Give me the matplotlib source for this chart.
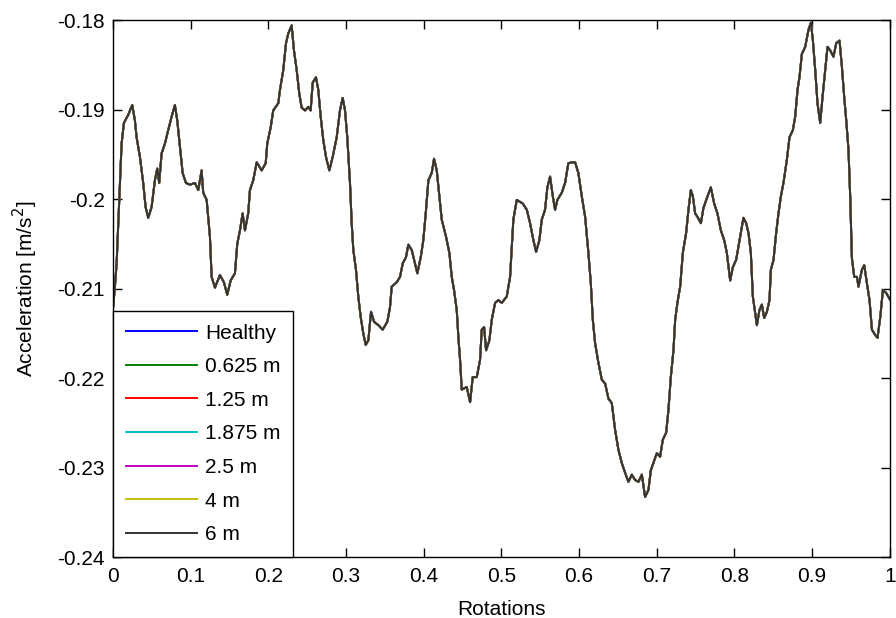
import matplotlib
matplotlib.use("Agg")
import matplotlib.pyplot as plt
from matplotlib.ticker import FixedLocator, FuncFormatter

# pixel-read trace (x in pixels of reference, y acceleration)
px = [113, 115, 116.7, 118.3, 120, 121.7, 124, 128.3, 132.3, 135, 136.7, 140, 143.3, 145.7, 148.3,
      151.7, 155, 157.3, 159.3, 161.7, 165, 168.3, 171.7, 175, 177.3, 180, 182.7, 186, 190, 195,
      198.3, 201.7, 203.3, 206.7, 208.3, 210, 211.7, 215, 220, 224, 227.3, 230.7, 235, 237.3, 240,
      242.7, 245, 248.3, 250, 253.3, 256.7, 261.7, 265.7, 267.3, 270.7, 273.3, 278.3, 280, 283.3,
      286, 288.3, 291.7, 294, 296.7, 299.3, 301.7, 305, 308.3, 310.7, 312.7, 316, 318.3, 320.7,
      323.3, 326, 329.3, 332.7, 336.7, 340, 342.7, 345, 347.3, 350, 351.7, 353.3, 356, 358.3,
      360.7, 363.3, 365.7, 368.3, 371, 374, 378.3, 382.7, 387.3, 390, 391.7, 396.7, 400, 402.7,
      406, 408.3, 411.7, 415, 417.3, 420.7, 423.3, 426, 428.3, 431.7, 434, 436.7, 439.3, 441.7,
      446, 449.3, 451.7, 454, 456.7, 458.3, 460, 461.7, 466.7, 470, 472.7, 476.7, 480, 481.7, 484,
      486, 489.3, 491.7, 495, 498.3, 501.7, 506.7, 510, 511.7, 513.3, 516.7, 522.7, 526.7, 530,
      533.3, 536, 539.3, 541.7, 545, 547.3, 550, 552.7, 555, 557.3, 561.7, 565, 568.3, 571.7, 575,
      578.3, 581.7, 585, 588.3, 590.7, 592.7, 595, 598.3, 601.7, 605, 608.3, 611.7, 615, 618.3,
      621.7, 625, 628.3, 631.7, 635, 638.3, 641.7, 645, 648.3, 650.7, 653.3, 656.7, 660, 662.7,
      666, 668.3, 670.7, 673.3, 675, 677.3, 680, 682.7, 686, 688.3, 690.7, 692.7, 695, 697.3,
      700.7, 703.3, 706.7, 710.7, 714, 717.3, 720.7, 724, 726.7, 730, 732.7, 736, 740, 743.3, 746,
      748.3, 750.7, 752.7, 755, 756.7, 759.3, 761.7, 764, 766.7, 769.3, 770.7, 773.3, 776, 778.3,
      780.7, 783.3, 786.7, 789.3, 792.7, 795, 797.3, 799.3, 801.7, 805, 808.3, 810.7, 812.7, 815,
      817.3, 820, 822.3, 825, 827.3, 830, 833.3, 836, 839.3, 841.7, 844, 846, 848.3, 850, 851.7,
      854, 856.7, 858.3, 861.7, 864, 866.7, 869.3, 871.7, 875, 877.3, 880, 882.7, 886, 889.5]

accel = [-0.2124, -0.2098, -0.2072, -0.2031, -0.1987, -0.1938, -0.1915, -0.1906, -0.1895, -0.1912,
         -0.1931, -0.1953, -0.1982, -0.2009, -0.2021, -0.2009, -0.1979, -0.1966, -0.1982, -0.1949,
         -0.1938, -0.1923, -0.1908, -0.1895, -0.1912, -0.1942, -0.1971, -0.1982, -0.1984, -0.1982,
         -0.1990, -0.1968, -0.1993, -0.2001, -0.2020, -0.2042, -0.2087, -0.2099, -0.2085, -0.2093,
         -0.2107, -0.2091, -0.2083, -0.2050, -0.2035, -0.2016, -0.2035, -0.2016, -0.1990, -0.1979,
         -0.1959, -0.1968, -0.1960, -0.1938, -0.1920, -0.1901, -0.1893, -0.1878, -0.1856, -0.1826,
         -0.1815, -0.1806, -0.1834, -0.1856, -0.1882, -0.1898, -0.1901, -0.1897, -0.1901, -0.1870,
         -0.1864, -0.1878, -0.1908, -0.1934, -0.1953, -0.1968, -0.1953, -0.1931, -0.1901, -0.1887,
         -0.1901, -0.1931, -0.1982, -0.2027, -0.2057, -0.2079, -0.2109, -0.2132, -0.2150, -0.2163,
         -0.2158, -0.2126, -0.2137, -0.2141, -0.2146, -0.2137, -0.2121, -0.2098, -0.2093, -0.2087,
         -0.2072, -0.2065, -0.2051, -0.2057, -0.2072, -0.2083, -0.2065, -0.2046, -0.2012, -0.1979,
         -0.1971, -0.1955, -0.1968, -0.1997, -0.2023, -0.2042, -0.2060, -0.2087, -0.2102, -0.2124,
         -0.2154, -0.2180, -0.2213, -0.2210, -0.2227, -0.2199, -0.2199, -0.2180, -0.2146, -0.2143,
         -0.2169, -0.2158, -0.2135, -0.2116, -0.2113, -0.2116, -0.2109, -0.2087, -0.2053, -0.2023,
         -0.2001, -0.2005, -0.2012, -0.2027, -0.2046, -0.2059, -0.2046, -0.2023, -0.2012, -0.1987,
         -0.1975, -0.1997, -0.2012, -0.2001, -0.1993, -0.1982, -0.1960, -0.1959, -0.1959, -0.1971,
         -0.1997, -0.2020, -0.2060, -0.2094, -0.2135, -0.2161, -0.2183, -0.2202, -0.2206, -0.2223,
         -0.2228, -0.2258, -0.2280, -0.2295, -0.2306, -0.2316, -0.2308, -0.2314, -0.2316, -0.2308,
         -0.2333, -0.2325, -0.2303, -0.2295, -0.2284, -0.2288, -0.2269, -0.2261, -0.2236, -0.2199,
         -0.2169, -0.2135, -0.2116, -0.2098, -0.2060, -0.2038, -0.2012, -0.1990, -0.1997, -0.2016,
         -0.2020, -0.2027, -0.2010, -0.1999, -0.1987, -0.2005, -0.2016, -0.2035, -0.2046, -0.2060,
         -0.2091, -0.2076, -0.2068, -0.2042, -0.2021, -0.2027, -0.2038, -0.2060, -0.2109, -0.2127,
         -0.2141, -0.2124, -0.2118, -0.2133, -0.2126, -0.2113, -0.2079, -0.2068, -0.2038, -0.2016,
         -0.1997, -0.1982, -0.1956, -0.1931, -0.1923, -0.1908, -0.1878, -0.1864, -0.1838, -0.1830,
         -0.1811, -0.1803, -0.1823, -0.1856, -0.1893, -0.1915, -0.1886, -0.1856, -0.1830, -0.1834,
         -0.1841, -0.1826, -0.1823, -0.1852, -0.1886, -0.1912, -0.1945, -0.1997, -0.2066, -0.2087,
         -0.2087, -0.2098, -0.2079, -0.2074, -0.2094, -0.2113, -0.2146, -0.2152, -0.2155, -0.2132,
         -0.2102, -0.2105, -0.2112]

rotations = [round((p - 113) / 776.5, 4) for p in px]

labels = ["Healthy", "0.625 m", "1.25 m", "1.875 m", "2.5 m", "4 m", "6 m"]
colors = ["#0000ff", "#008000", "#ff0000", "#00bfbf", "#bf00bf", "#bfbf00", "#333333"]
series = [accel] * len(labels)

xticks = [0, 0.1, 0.2, 0.3, 0.4, 0.5, 0.6, 0.7, 0.8, 0.9, 1]
yticks = [-0.24, -0.23, -0.22, -0.21, -0.2, -0.19, -0.18]

FS = 15

plt.rcParams['font.family'] = ['Liberation Sans', 'DejaVu Sans']
fig = plt.figure(figsize=(8.96, 6.18), dpi=100)
ax = fig.add_axes([0.126, 0.0987, 0.867, 0.8689])

for vals, lab, col in zip(series, labels, colors):
    ax.plot(rotations, vals, color=col, lw=1.4, label=lab)

ax.set_xlim(0, 1)
ax.set_ylim(-0.24, -0.18)
ax.xaxis.set_major_locator(FixedLocator(xticks))
ax.yaxis.set_major_locator(FixedLocator(yticks))
fmt = FuncFormatter(lambda v, p: "%g" % round(v, 4))
ax.xaxis.set_major_formatter(fmt)
ax.yaxis.set_major_formatter(fmt)
ax.tick_params(direction='in', top=True, right=True, length=6.5, width=1, labelsize=FS)
ax.tick_params(axis='x', pad=7)
ax.tick_params(axis='y', pad=6)
for s in ax.spines.values():
    s.set_linewidth(1)
ax.set_xlabel("Rotations", fontsize=FS, labelpad=10)
ax.set_ylabel("Acceleration [m/s$^2$]", fontsize=FS, labelpad=12)

leg = ax.legend(loc='lower left', bbox_to_anchor=(0, 0), borderaxespad=0, fancybox=False,
                edgecolor='black', framealpha=1, fontsize=FS, handlelength=3.4,
                labelspacing=0.70, borderpad=0.62, handletextpad=0.4)
leg.get_frame().set_linewidth(1)

fig.savefig("out.png", dpi=100)
